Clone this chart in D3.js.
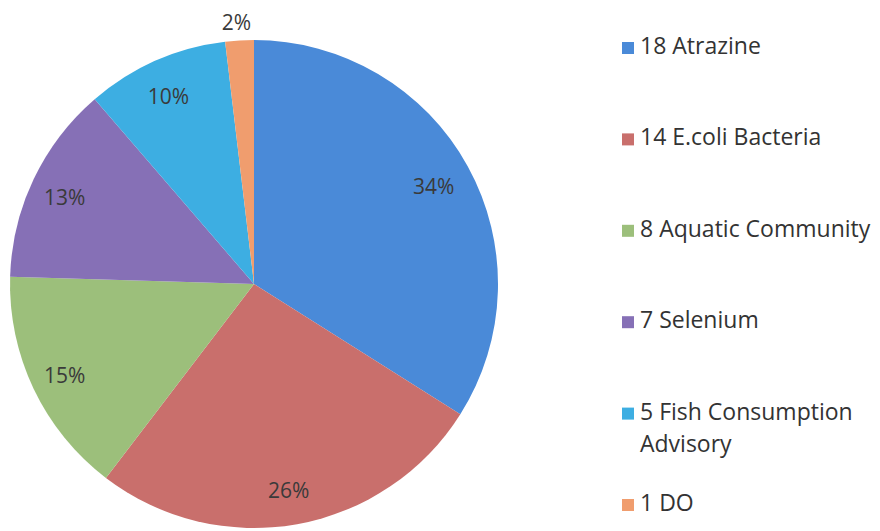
<!DOCTYPE html>
<html>
<head>
<meta charset="utf-8">
<script src="https://cdn.jsdelivr.net/npm/d3@7"></script>
<style>
  html, body { margin: 0; padding: 0; background: #ffffff; }
  svg { display: block; }
  text { font-family: "Open Sans", Lato, sans-serif; font-variant-ligatures: none; }
</style>
</head>
<body>
<svg id="chart" width="880" height="531"></svg>
<script>
const categories = ["Atrazine", "E.coli Bacteria", "Aquatic Community", "Selenium", "Fish Consumption Advisory", "DO"];
const values = [18, 14, 8, 7, 5, 1];
const percentLabels = ["34%", "26%", "15%", "13%", "10%", "2%"];
const legendLines = [["18 Atrazine"], ["14 E.coli Bacteria"], ["8 Aquatic Community"], ["7 Selenium"], ["5 Fish Consumption", "Advisory"], ["1 DO"]];
const colors = ["#4A8AD8", "#C96F6C", "#9CBF7B", "#8670B6", "#3DAEE2", "#F09D6E"];

const svg = d3.select("#chart");
const cx = 254, cy = 284, R = 244;

const pie = d3.pie().sort(null).value(d => d)(values);
const arc = d3.arc().innerRadius(0).outerRadius(R);
const labelArcIn = d3.arc().innerRadius(R * 0.85).outerRadius(R * 0.85);
const labelArcOut = d3.arc().innerRadius(R + 20).outerRadius(R + 20);

const g = svg.append("g").attr("transform", `translate(${cx},${cy})`);
g.selectAll("path.slice").data(pie).enter().append("path")
  .attr("class", "slice")
  .attr("d", arc)
  .attr("fill", (d, i) => colors[i]);

g.selectAll("text.pct").data(pie).enter().append("text")
  .attr("class", "pct")
  .attr("transform", (d, i) => {
    const c = (d.endAngle - d.startAngle) < 0.3 ? labelArcOut.centroid(d) : labelArcIn.centroid(d);
    return `translate(${c[0] - 2},${c[1] + 2})`;
  })
  .attr("text-anchor", "middle")
  .attr("dominant-baseline", "central")
  .attr("font-size", 21)
  .attr("fill", "#3a3a3a")
  .text((d, i) => percentLabels[i]);

const legend = svg.append("g").attr("transform", "translate(622,0)");
const yScale = d3.scaleLinear().domain([0, categories.length - 1]).range([54, 511]);
const items = legend.selectAll("g.item").data(categories).enter().append("g")
  .attr("class", "item")
  .attr("transform", (d, i) => `translate(0,${yScale(i)})`);
items.append("rect")
  .attr("x", 0).attr("y", -12).attr("width", 12).attr("height", 12)
  .attr("fill", (d, i) => colors[i]);
items.each(function(d, i) {
  const t = d3.select(this).append("text")
    .attr("x", 18).attr("y", 0)
    .attr("font-size", 23)
    .attr("fill", "#333333");
  legendLines[i].forEach((line, j) => {
    t.append("tspan").attr("x", 18).attr("dy", j === 0 ? 0 : 32).text(line);
  });
});
</script>
</body>
</html>
